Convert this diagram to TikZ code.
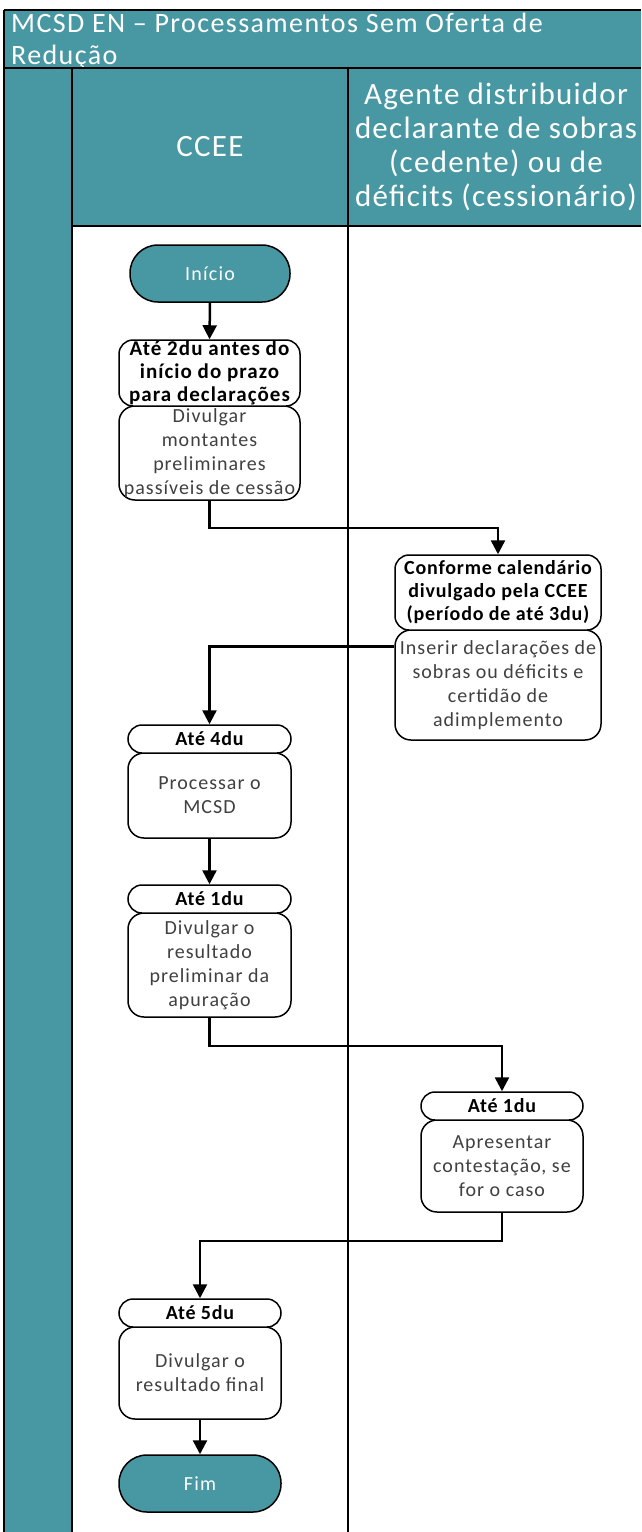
\documentclass[tikz,border=0pt]{standalone}
\usepackage{fontspec}
\setmainfont{Carlito}
\newfontfamily\lsfive[LetterSpace=5]{Carlito}
\newfontfamily\lsfour[LetterSpace=4]{Carlito}
\newfontfamily\lssix[LetterSpace=6]{Carlito}
\usetikzlibrary{arrows.meta,calc}
\definecolor{teal1}{HTML}{4898A3}
\definecolor{bodytxt}{HTML}{404040}
\begin{document}
\begin{tikzpicture}[x=1pt,y=-1pt,
  lane/.style={line width=1.5pt,draw=black},
  term/.style={draw=black,line width=1.5pt,fill=teal1,rounded corners=28pt,text=white,font=\lssix\fontsize{20}{22}\selectfont,inner sep=0pt},
  hdr/.style={draw=black,line width=1.5pt,fill=white,rounded corners=14pt,font=\lsfour\fontsize{20}{23}\selectfont\bfseries,align=center,inner sep=0pt},
  body/.style={draw=black,line width=1.5pt,fill=white,rounded corners=16pt,font=\lsfive\fontsize{20}{24}\selectfont,text=bodytxt,align=center,inner sep=0pt},
  flow/.style={line width=2.5pt,-{Triangle[width=14pt,length=14pt]}}]
\useasboundingbox (0,0) rectangle (641,1532);
\fill[white] (0,0) rectangle (641,1532);
% title band
\fill[teal1] (4,10) rectangle (641,68);
\node[anchor=north west,inner sep=0pt,text=white,align=left,font=\lsfive\fontsize{28}{32}\selectfont] (title) at (11,13) {MCSD EN – Processamentos Sem Oferta de\\Redução};
% header cells and left column
\fill[teal1] (4,68) rectangle (72,1532);
\fill[teal1] (72,68) rectangle (641,226);
\node[text=white,font=\lsfour\fontsize{31}{34}\selectfont] (hccee) at (210,147) {CCEE};
\node[text=white,align=center,font=\lsfour\fontsize{31}{34}\selectfont] (hagent) at (496,147) {Agente distribuidor\\declarante de sobras\\(cedente) ou de\\déficits (cessionário)};
% lane lines
\draw[lane] (4,10) -- (641,10);
\draw[lane] (4,10) -- (4,1532);
\draw[lane] (4,68) -- (641,68);
\draw[lane] (72,68) -- (72,1532);
\draw[lane] (348,68) -- (348,1532);
\draw[lane] (72,226) -- (641,226);
% nodes
\node[term,minimum width=160pt,minimum height=57pt] (ini) at (210,273.5) {Início};
\node[body,minimum width=181pt,minimum height=94pt] (b1) at (209.5,453) {Divulgar\\montantes\\preliminares\\passíveis de cessão};
\node[hdr,minimum width=181pt,minimum height=66pt,font=\lsfive\fontsize{21}{23}\selectfont\bfseries] (h1) at (209.5,373) {Até 2du antes do\\início do prazo\\para declarações};
\node[body,minimum width=206pt,minimum height=110pt] (b2) at (498,685) {Inserir declarações de\\sobras ou déficits e\\certidão de\\adimplemento};
\node[hdr,minimum width=206pt,minimum height=75pt] (h2) at (498,592.5) {Conforme calendário\\divulgado pela CCEE\\(período de até 3du)};
\node[body,minimum width=163pt,minimum height=85pt] (b3) at (209.5,795.5) {Processar o\\MCSD};
\node[hdr,minimum width=163pt,minimum height=28pt] (h3) at (209.5,739) {Até 4du};
\node[body,minimum width=163pt,minimum height=104pt] (b4) at (209.5,965) {Divulgar o\\resultado\\preliminar da\\apuração};
\node[hdr,minimum width=163pt,minimum height=28pt] (h4) at (209.5,899) {Até 1du};
\node[body,minimum width=162pt,minimum height=92pt] (b5) at (502,1166) {Apresentar\\contestação, se\\for o caso};
\node[hdr,minimum width=162pt,minimum height=28pt] (h5) at (502,1106) {Até 1du};
\node[body,minimum width=162pt,minimum height=92pt] (b6) at (200,1373) {Divulgar o\\resultado final};
\node[hdr,minimum width=162pt,minimum height=28pt] (h6) at (200,1313) {Até 5du};
\node[term,minimum width=162pt,minimum height=57pt] (fim) at (200,1483.5) {Fim};
% connectors
\draw[flow] (ini.south) -- (h1.north);
\draw[flow] (b1.south) -- ++(0,27) -| (h2.north);
\draw[flow] ($(b2.north west)+(0,17)$) -| (h3.north);
\draw[flow] (b3.south) -- (h4.north);
\draw[flow] (b4.south) -- ++(0,28) -| (h5.north);
\draw[flow] (b5.south) -- ++(0,28) -| (h6.north);
\draw[flow] (b6.south) -- (fim.north);
\end{tikzpicture}
\end{document}
